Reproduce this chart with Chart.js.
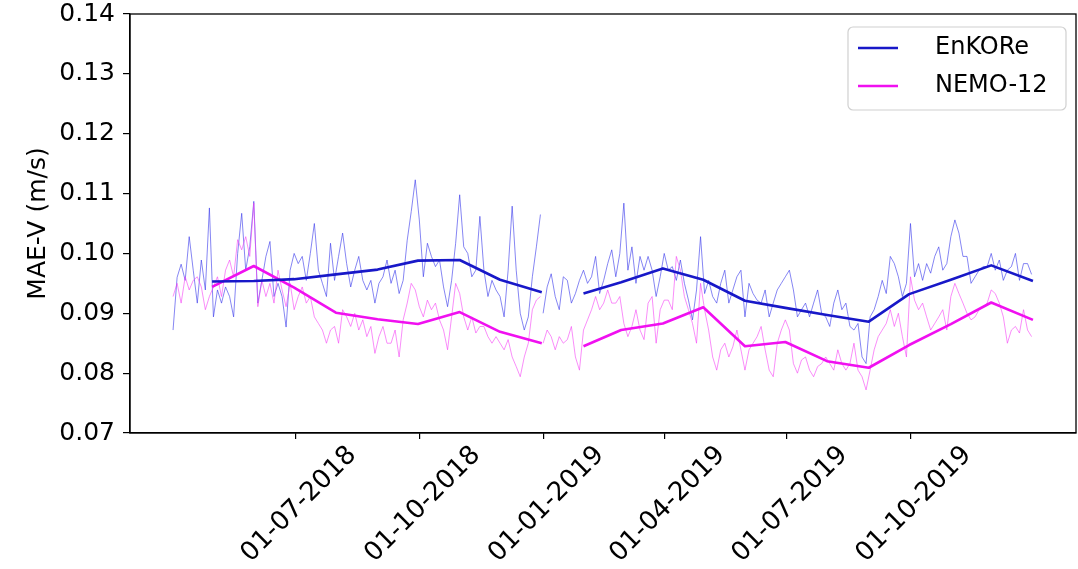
<!DOCTYPE html>
<html>
<head>
<meta charset="utf-8">
<script src="https://cdn.jsdelivr.net/npm/chart.js@4.4.1/dist/chart.umd.min.js"></script>
<style>
  html, body { margin: 0; padding: 0; background: #fff; }
  #wrap { width: 1078px; height: 569px; position: relative; }
</style>
</head>
<body>
<div id="wrap"><canvas id="myChart"></canvas></div>
<script>
'use strict';

// ***** DATA *****
const seriesNames = ['EnKORe', 'NEMO-12'];
const yTitle = 'MAE-V (m/s)';

const tickDates = ['2018-07-01', '2018-10-01', '2019-01-01', '2019-04-01', '2019-07-01', '2019-10-01'];
const tickLabels = ['01-07-2018', '01-10-2018', '01-01-2019', '01-04-2019', '01-07-2019', '01-10-2019'];
const yTicks = [0.07, 0.08, 0.09, 0.10, 0.11, 0.12, 0.13, 0.14];

// daily curves, every 3 days
const dailyStep = 3;
const dailyStart2018 = '2018-04-01';
const dailyStart2019 = '2019-01-01';

const enkoreDaily2018 = [
  0.0872, 0.0960, 0.0982, 0.0955, 0.1028, 0.0972, 0.0917, 0.0989, 0.0939, 0.1076,
  0.0894, 0.0939, 0.0917, 0.0944, 0.0928, 0.0894, 0.1000, 0.1067, 0.0972, 0.1011,
  0.1087, 0.0917, 0.0955, 0.0995, 0.1020, 0.0928, 0.0950, 0.0928, 0.0877, 0.0972,
  0.1000, 0.0983, 0.0995, 0.0955, 0.1000, 0.1050, 0.0972, 0.0950, 0.0928, 0.1017,
  0.0955, 0.0995, 0.1034, 0.0983, 0.0944, 0.0972, 0.0995, 0.0955, 0.0939, 0.0955,
  0.0917, 0.0950, 0.0961, 0.0989,
  0.0950, 0.0972, 0.0933, 0.0955, 0.1022, 0.1070, 0.1123, 0.1056, 0.0961, 0.1017,
  0.0995, 0.0978, 0.0989, 0.0944, 0.0911, 0.0955, 0.1017, 0.1098, 0.1011, 0.1000,
  0.0961, 0.0972, 0.1062, 0.0972, 0.0928, 0.0955, 0.0939, 0.0928, 0.0894, 0.0972,
  0.1079, 0.0972, 0.0900, 0.0872, 0.0894, 0.0961, 0.1011, 0.1065
];
const nemoDaily2018 = [
  0.0928, 0.0950, 0.0917, 0.0961, 0.0939, 0.0955, 0.0961, 0.0944, 0.0906, 0.0928,
  0.0944, 0.0961, 0.0928, 0.0972, 0.0989, 0.0961, 0.1023, 0.1006, 0.1028, 0.0995,
  0.1084, 0.0911, 0.0955, 0.0928, 0.0950, 0.0917, 0.0972, 0.0939, 0.0911, 0.0950,
  0.0906, 0.0928, 0.0944, 0.0917, 0.0928, 0.0894, 0.0883, 0.0872, 0.0850, 0.0872,
  0.0878, 0.0850, 0.0906, 0.0894, 0.0878, 0.0900, 0.0872, 0.0889, 0.0861, 0.0878,
  0.0833, 0.0861, 0.0878, 0.0850,
  0.0850, 0.0872, 0.0827, 0.0889, 0.0917, 0.0950, 0.0939, 0.0911, 0.0894, 0.0922,
  0.0906, 0.0917, 0.0889, 0.0872, 0.0839, 0.0894, 0.0950, 0.0933, 0.0894, 0.0872,
  0.0894, 0.0867, 0.0878, 0.0878, 0.0861, 0.0850, 0.0861, 0.0850, 0.0839, 0.0856,
  0.0827, 0.0811, 0.0794, 0.0827, 0.0850, 0.0906, 0.0922, 0.0928
];
const enkoreDaily2019 = [
  0.0900, 0.0944, 0.0966, 0.0928, 0.0906, 0.0961, 0.0955, 0.0917, 0.0933, 0.0955,
  0.0972, 0.0950, 0.0961, 0.0995, 0.0933, 0.0955, 0.0983, 0.1006,
  0.0961, 0.1000, 0.1084, 0.0972, 0.1011, 0.0950, 0.0995, 0.0972, 0.0995, 0.0972,
  0.0928, 0.0961, 0.1000, 0.0972, 0.0978, 0.0955, 0.0989, 0.0950, 0.0922, 0.0889,
  0.0939, 0.1028, 0.0933, 0.0955, 0.0928, 0.0917, 0.0950, 0.0972, 0.0917, 0.0939,
  0.0961, 0.0972, 0.0894, 0.0950, 0.0933, 0.0922, 0.0917, 0.0939, 0.0894, 0.0917,
  0.0939, 0.0950, 0.0961, 0.0972, 0.0939, 0.0894, 0.0906, 0.0917, 0.0894, 0.0917,
  0.0939, 0.0900, 0.0894, 0.0878, 0.0917,
  0.0939, 0.0906, 0.0917, 0.0878, 0.0872, 0.0883, 0.0827, 0.0816, 0.0894, 0.0906,
  0.0928, 0.0955, 0.0933, 0.0995, 0.0983, 0.0961, 0.0928, 0.0950, 0.1050, 0.0961,
  0.0983, 0.0955, 0.0983, 0.0967, 0.0995, 0.1011, 0.0972, 0.0983, 0.1028, 0.1056,
  0.1034, 0.0995, 0.0995, 0.0950, 0.0961, 0.0972, 0.0978, 0.0978, 0.1000, 0.0972,
  0.0989, 0.0955, 0.0972, 0.0978, 0.1000, 0.0955, 0.0983, 0.0983, 0.0965
];
const nemoDaily2019 = [
  0.0850, 0.0872, 0.0861, 0.0839, 0.0861, 0.0850, 0.0856, 0.0878, 0.0827, 0.0805,
  0.0872, 0.0889, 0.0906, 0.0928, 0.0906, 0.0917, 0.0939, 0.0917,
  0.0917, 0.0928, 0.0883, 0.0861, 0.0878, 0.0906, 0.0872, 0.0856, 0.0917, 0.0928,
  0.0850, 0.0906, 0.0922, 0.0922, 0.0906, 0.0995, 0.0972, 0.0928, 0.0906, 0.0883,
  0.0850, 0.0950, 0.0906, 0.0872, 0.0827, 0.0805, 0.0839, 0.0850, 0.0827, 0.0844,
  0.0872, 0.0839, 0.0805, 0.0839, 0.0850, 0.0861, 0.0878, 0.0839, 0.0805, 0.0794,
  0.0850, 0.0872, 0.0889, 0.0872, 0.0816, 0.0800, 0.0822, 0.0827, 0.0805, 0.0794,
  0.0811, 0.0816, 0.0827, 0.0816, 0.0805,
  0.0839, 0.0816, 0.0805, 0.0816, 0.0850, 0.0805, 0.0794, 0.0772, 0.0805, 0.0839,
  0.0861, 0.0872, 0.0883, 0.0906, 0.0878, 0.0900, 0.0861, 0.0827, 0.0961, 0.0922,
  0.0906, 0.0917, 0.0894, 0.0872, 0.0883, 0.0894, 0.0906, 0.0872, 0.0928, 0.0950,
  0.0933, 0.0917, 0.0900, 0.0889, 0.0894, 0.0906, 0.0911, 0.0917, 0.0939, 0.0933,
  0.0917, 0.0894, 0.0850, 0.0872, 0.0878, 0.0867, 0.0906, 0.0872, 0.0861
];

// monthly means, plotted at the end of each month
const monthEnds2018 = ['2018-04-30', '2018-05-31', '2018-06-30', '2018-07-31', '2018-08-31',
  '2018-09-30', '2018-10-31', '2018-11-30', '2018-12-31'];
const enkoreMonthly2018 = [0.0953, 0.0954, 0.0957, 0.0965, 0.0973, 0.0988, 0.0989, 0.0956, 0.0935];
const nemoMonthly2018 = [0.0944, 0.0979, 0.0943, 0.0901, 0.0890, 0.0882, 0.0902, 0.0869, 0.0850];

const monthEnds2019 = ['2019-01-31', '2019-02-28', '2019-03-31', '2019-04-30', '2019-05-31', '2019-06-30',
  '2019-07-31', '2019-08-31', '2019-09-30', '2019-10-31', '2019-11-30', '2019-12-31'];
const enkoreMonthly2019 = [0.0933, 0.0952, 0.0975, 0.0956, 0.0921, 0.0909, 0.0897, 0.0886, 0.0932, 0.0956, 0.0980, 0.0954];
const nemoMonthly2019 = [0.0845, 0.0872, 0.0883, 0.0910, 0.0845, 0.0852, 0.0820, 0.0809, 0.0847, 0.0882, 0.0918, 0.0889];

// ***** HELPERS *****
const originMs = Date.UTC(2018, 3, 1);

function toDay(str){
  let p = str.split('-').map(Number);
  return (Date.UTC(p[0], p[1] - 1, p[2]) - originMs) / 86400000;
}

function dailyPoints(start, values){
  let d0 = toDay(start);
  return values.map((v, i) => ({x: d0 + i * dailyStep, y: v}));
}

function monthlyPoints(dates, values){
  return dates.map((d, i) => ({x: toDay(d), y: values[i]}));
}

// a null point between the two years breaks the line
function joinYears(a, b){
  let gapX = (a[a.length - 1].x + b[0].x) / 2;
  return a.concat([{x: gapX, y: null}], b);
}

const tickDays = tickDates.map(toDay);

// ***** PLUGINS *****
const framePlugin = {
  id: 'frame',
  afterDraw(chart){
    let a = chart.chartArea;
    let ctx = chart.ctx;
    ctx.save();
    ctx.strokeStyle = '#000';
    ctx.lineWidth = 1.3;
    ctx.strokeRect(a.left, a.top, a.right - a.left, a.bottom - a.top);
    ctx.restore();
  }
};

const legendPlugin = {
  id: 'boxLegend',
  afterDraw(chart){
    let a = chart.chartArea;
    let ctx = chart.ctx;
    let items = chart.data.datasets.filter(ds => ds.label);
    let w = 218, h = 83;
    let x = a.right - 10 - w;
    let y = a.top + 13;
    ctx.save();
    ctx.beginPath();
    ctx.roundRect(x, y, w, h, 5);
    ctx.fillStyle = 'rgba(255,255,255,0.85)';
    ctx.fill();
    ctx.strokeStyle = '#d0d0d0';
    ctx.lineWidth = 1.2;
    ctx.stroke();
    ctx.font = "24px 'DejaVu Sans'";
    ctx.textBaseline = 'middle';
    items.forEach((ds, i) => {
      let ry = y + 21 + i * 38;
      ctx.beginPath();
      ctx.moveTo(x + 10, ry);
      ctx.lineTo(x + 50, ry);
      ctx.strokeStyle = ds.borderColor;
      ctx.lineWidth = 2.5;
      ctx.stroke();
      ctx.fillStyle = '#000';
      ctx.fillText(ds.label, x + 87, ry);
    });
    ctx.restore();
  }
};

// ***** CHART *****
Chart.defaults.font.family = "'DejaVu Sans', sans-serif";
Chart.defaults.color = '#000';

const ctx = document.getElementById('myChart');
const myChart = new Chart(ctx, {
  type: 'line',
  data: {
    datasets: [
      {
        label: seriesNames[0],
        data: joinYears(monthlyPoints(monthEnds2018, enkoreMonthly2018), monthlyPoints(monthEnds2019, enkoreMonthly2019)),
        borderColor: '#1818c8',
        borderWidth: 2.6,
        order: 0
      },
      {
        label: seriesNames[1],
        data: joinYears(monthlyPoints(monthEnds2018, nemoMonthly2018), monthlyPoints(monthEnds2019, nemoMonthly2019)),
        borderColor: '#f010f0',
        borderWidth: 2.6,
        order: 1
      },
      {
        label: '',
        data: joinYears(dailyPoints(dailyStart2018, enkoreDaily2018), dailyPoints(dailyStart2019, enkoreDaily2019)),
        borderColor: 'rgba(60,60,235,0.62)',
        borderWidth: 1,
        order: 3
      },
      {
        label: '',
        data: joinYears(dailyPoints(dailyStart2018, nemoDaily2018), dailyPoints(dailyStart2019, nemoDaily2019)),
        borderColor: 'rgba(245,60,245,0.58)',
        borderWidth: 1,
        order: 2
      }
    ]
  },
  options: {
    responsive: true,
    maintainAspectRatio: false,
    animation: false,
    spanGaps: false,
    elements: {
      point: { radius: 0, hoverRadius: 0 },
      line: { tension: 0, borderJoinStyle: 'round' }
    },
    layout: {
      padding: { top: 14, right: 2, left: 0, bottom: 0 }
    },
    plugins: {
      legend: { display: false },
      tooltip: { enabled: false }
    },
    scales: {
      x: {
        type: 'linear',
        min: -32,
        max: 671,
        grid: { drawOnChartArea: false, tickLength: 6, color: '#000', lineWidth: 1.2 },
        border: { color: '#000', width: 1.3 },
        ticks: {
          autoSkip: false,
          minRotation: 45,
          maxRotation: 45,
          labelOffset: 57,
          padding: 1,
          font: { size: 26 },
          color: '#000',
          callback: (v) => tickLabels[tickDays.indexOf(v)]
        },
        afterBuildTicks: (s) => { s.ticks = tickDays.map(v => ({value: v})); },
        afterFit: (s) => { s.height = 136; s.paddingLeft = 0; s.paddingRight = 0; }
      },
      y: {
        min: yTicks[0],
        max: yTicks[yTicks.length - 1],
        grid: { drawOnChartArea: false, tickLength: 7, color: '#000', lineWidth: 1.2 },
        border: { color: '#000', width: 1.3 },
        ticks: {
          padding: 8,
          font: { size: 25 },
          color: '#000',
          callback: (v) => v.toFixed(2)
        },
        afterBuildTicks: (s) => { s.ticks = yTicks.map(v => ({value: v})); },
        title: {
          display: true,
          text: yTitle,
          font: { size: 25 },
          color: '#000',
          padding: { top: 23, bottom: 0 }
        },
        afterFit: (s) => { s.width = 130; s.paddingTop = 0; s.paddingBottom = 0; }
      }
    }
  },
  plugins: [framePlugin, legendPlugin]
});
</script>
</body>
</html>
